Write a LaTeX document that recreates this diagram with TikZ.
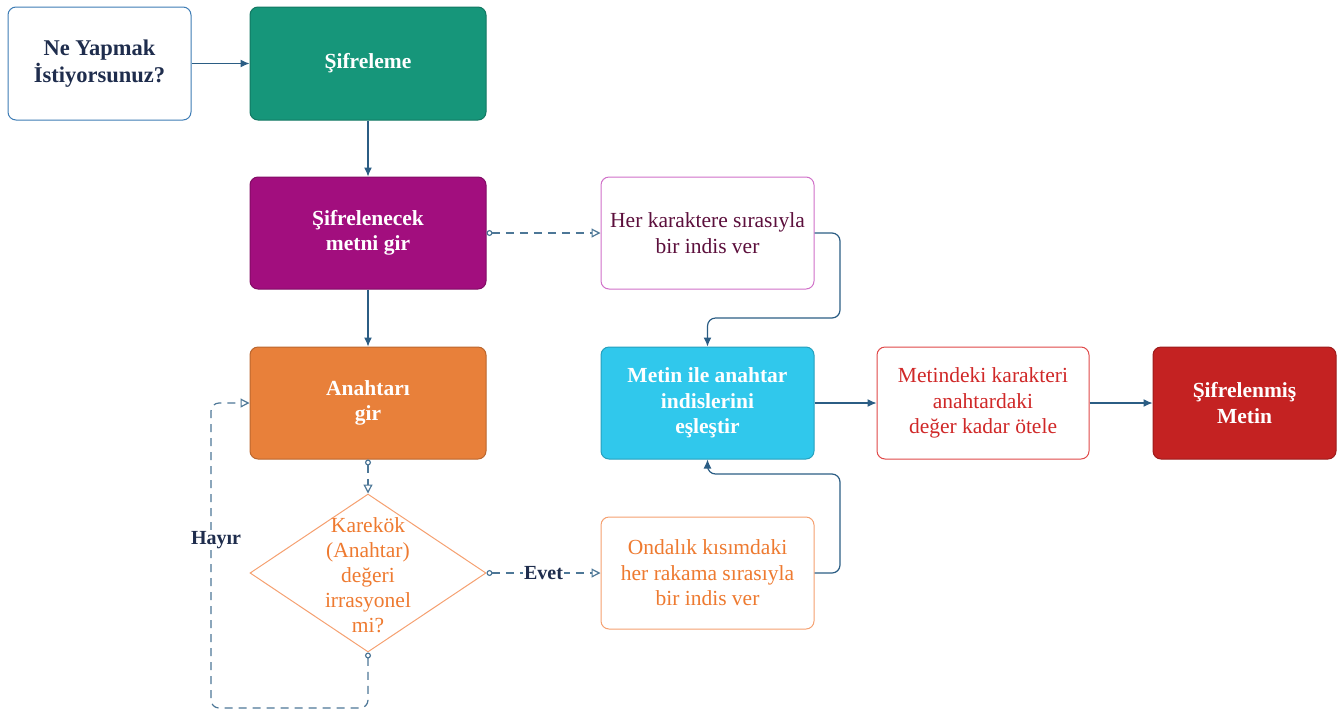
\documentclass[tikz,border=0pt]{standalone}
\usepackage{fontspec}
\setmainfont{Liberation Serif}
\usetikzlibrary{arrows.meta,shapes.geometric}
\definecolor{linec}{HTML}{2B5D84}
\definecolor{dlinec}{HTML}{4D7797}
\definecolor{navy}{HTML}{1F2D4D}
\definecolor{teal}{HTML}{16967A}
\definecolor{purp}{HTML}{A20E7E}
\definecolor{orng}{HTML}{E8803A}
\definecolor{cyanb}{HTML}{30C8EC}
\definecolor{dred}{HTML}{C42222}
\definecolor{lorng}{HTML}{F5A070}
\definecolor{torng}{HTML}{EE7A30}
\definecolor{pinkb}{HTML}{D070C8}
\definecolor{maroon}{HTML}{5C0F3C}
\definecolor{redb}{HTML}{E04848}
\definecolor{redt}{HTML}{D02828}
\definecolor{blueb}{HTML}{3D7CB5}
\tikzset{
  box/.style={rectangle, rounded corners=8pt, minimum width=236pt, minimum height=112pt,
    align=center, font=\fontsize{21.5}{25.5}\selectfont, line width=1pt, inner sep=2pt},
  filled/.style={box, font=\bfseries\fontsize{21.5}{25.5}\selectfont, text=white, fill=#1, draw=#1!80!black},
  outlined/.style={box, fill=white, draw=#1},
  conn/.style={draw=linec, line width=1.2pt, -{Latex[length=9pt,width=8pt]}},
  dconn/.style={draw=dlinec, line width=1.2pt, dash pattern=on 8pt off 6pt,
    {Circle[open,length=6pt,width=6pt]}-{Triangle[open,length=9pt,width=9pt]}},
  lbl/.style={font=\bfseries\fontsize{20}{22}\selectfont, text=navy, fill=white, inner sep=1pt},
}
\begin{document}
\begin{tikzpicture}[x=1pt,y=-1pt]
\useasboundingbox (0,0) rectangle (1340,713);
% nodes
\node[outlined=blueb, minimum width=183pt, minimum height=113pt, text=navy,
  font=\bfseries\fontsize{22.5}{27}\selectfont] (A) at (99.5,63.5) {Ne Yapmak\\İstiyorsunuz?};
\node[filled=teal, minimum height=113pt] (B) at (368,63.5) {Şifreleme};
\node[filled=purp] (C) at (368,233) {Şifrelenecek\\metni gir};
\node[filled=orng] (D) at (368,403) {Anahtarı\\gir};
\node[diamond, draw=lorng, line width=1pt, minimum width=236pt, minimum height=158pt, inner sep=0pt] (E) at (368,573) {};
\node[align=center, text=torng, font=\fontsize{21.5}{25}\selectfont] (Et) at (368,575) {Karekök\\(Anahtar)\\değeri\\irrasyonel\\mi?};
\node[outlined=pinkb, minimum width=213pt, text=maroon] (F) at (707.5,233) {Her karaktere sırasıyla\\bir indis ver};
\node[filled=cyanb, minimum width=213pt] (G) at (707.5,403) {Metin ile anahtar\\indislerini\\eşleştir};
\node[outlined=lorng, minimum width=213pt, text=torng] (H) at (707.5,573) {Ondalık kısımdaki\\her rakama sırasıyla\\bir indis ver};
\node[outlined=redb, minimum width=212pt, text=redt] (I) at (983,403) {Metindeki karakteri\\anahtardaki\\değer kadar ötele};
\node[filled=dred, minimum width=183pt] (J) at (1244.5,403) {Şifrelenmiş\\Metin};
% waypoints
\coordinate (fg) at (840,318);
\coordinate (hg) at (840,474);
\coordinate (ed) at (211,708);
% connectors
\draw[conn] (A) -- (B);
\draw[conn] (B) -- (C);
\draw[conn] (C) -- (D);
\draw[dconn] (C.east) -- (F.west);
\draw[conn, rounded corners=8pt] (F.east) -| (fg) -| (G.north);
\draw[conn, rounded corners=8pt] (H.east) -| (hg) -| (G.south);
\draw[conn] (G) -- (I);
\draw[conn] (I) -- (J);
\draw[dconn] (D.south) -- (E.north);
\draw[dconn] (E.east) -- node[lbl] (ev) {Evet} (H.west);
\draw[dconn, rounded corners=8pt] (E.south) |- (ed) |- (D.west);
\node[lbl] (hy) at (216,540) {Hayır};
\end{tikzpicture}
\end{document}
